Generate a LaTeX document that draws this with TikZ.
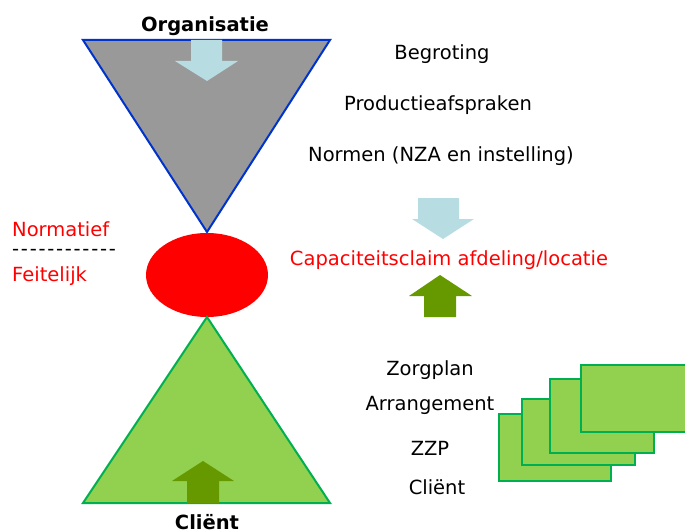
\documentclass[tikz,border=0pt]{standalone}
\usepackage{fontspec}
\setmainfont{DejaVu Sans}
\definecolor{tgray}{HTML}{999999}
\definecolor{tblue}{HTML}{0033CC}
\definecolor{lgreen}{HTML}{92D050}
\definecolor{bgreen}{HTML}{00B050}
\definecolor{dgreen}{HTML}{669900}
\definecolor{lblue}{HTML}{B7DDE2}
\definecolor{tred}{HTML}{FF0000}
\newcommand{\hy}{-\kern1.75pt}
\tikzset{
  lbl/.style={inner sep=0pt, font=\fontsize{19.5}{23}\selectfont},
  redlbl/.style={lbl, text=tred},
  boldlbl/.style={inner sep=0pt, font=\fontsize{19.5}{23}\selectfont\bfseries},
  card/.style={draw=bgreen, fill=lgreen, line width=2pt},
}
\begin{document}
\begin{tikzpicture}[x=1pt,y=-1pt]
\useasboundingbox (0,0) rectangle (685,532);
\clip (0,0) rectangle (685,532);
% top triangle
\draw[fill=tgray, draw=tblue, line width=2pt, line join=miter] (83,40) -- (330,40) -- (207,232) -- cycle;
\fill[lblue] (191,40) -- (222,40) -- (222,61) -- (238,61) -- (207,81) -- (175,61) -- (191,61) -- cycle;
\node[boldlbl] (org) at (205,26) {Organisatie};
% ellipse
\fill[tred] (207,275) ellipse [x radius=61, y radius=42];
% bottom triangle
\draw[fill=lgreen, draw=bgreen, line width=2pt] (207,317) -- (330,503) -- (83,503) -- cycle;
\fill[dgreen] (187,503) -- (187,481) -- (172,481) -- (203,461) -- (234,481) -- (219,481) -- (219,503) -- cycle;
\node[boldlbl] (cl) at (207,522) {Cliënt};
% left labels
\node[redlbl, anchor=west] (norm) at (12,229) {Normatief};
\node[lbl, anchor=west] (dash) at (12,252) {\hy\hy\hy\hy\hy\hy\hy\hy\hy\hy\hy-};
\node[redlbl, anchor=west] (feit) at (12,276) {Feitelijk};
% right texts
\node[lbl] (beg) at (442,54) {Begroting};
\node[lbl] (prod) at (438,105) {Productieafspraken};
\node[lbl] (norms) at (441,156) {Normen (NZA en instelling)};
\fill[lblue] (418,198) -- (459,198) -- (459,219) -- (474,219) -- (443,239) -- (412,219) -- (418,219) -- cycle;
\node[redlbl] (cap) at (449,260) {Capaciteitsclaim afdeling/locatie};
\fill[dgreen] (424,317) -- (424,296) -- (409,296) -- (440,275) -- (472,296) -- (456,296) -- (456,317) -- cycle;
\node[lbl] (zorg) at (430,370) {Zorgplan};
\node[lbl] (arr) at (430,405) {Arrangement};
\node[lbl] (zzp) at (430,448) {ZZP};
\node[lbl] (cli2) at (437,487) {Cliënt};
% cards
\draw[card] (499,414) rectangle (611,481);
\draw[card] (522,399) rectangle (635,465);
\draw[card] (550,379) rectangle (654,453);
\draw[card] (581,365) rectangle (700,432);
\end{tikzpicture}
\end{document}
